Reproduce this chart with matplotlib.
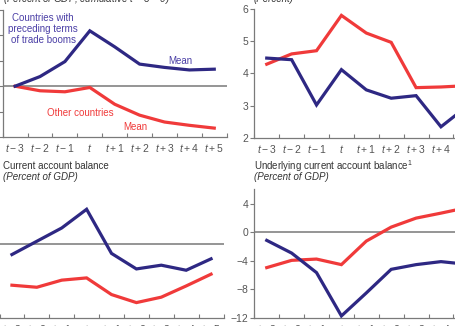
import matplotlib
matplotlib.use('Agg')
import matplotlib.pyplot as plt

plt.rcParams['font.family'] = ['Liberation Sans', 'DejaVu Sans']
plt.rcParams['mathtext.fontset'] = 'custom'
plt.rcParams['mathtext.it'] = 'Liberation Sans:italic'
plt.rcParams['mathtext.rm'] = 'Liberation Sans'

# data
periods = ['$t-3$', '$t-2$', '$t-1$', '$t$', '$t+1$', '$t+2$', '$t+3$', '$t+4$', '$t+5$']

# top left: cumulative, t-3 = 0
tl_boom = [0.0, 0.38, 0.97, 2.18, 1.55, 0.87, 0.74, 0.64, 0.67]
tl_other = [0.0, -0.18, -0.22, -0.05, -0.71, -1.14, -1.41, -1.54, -1.65]

# top right: percent
tr_boom = [4.48, 4.43, 3.02, 4.12, 3.49, 3.23, 3.31, 2.34, 2.95]
tr_other = [4.29, 4.61, 4.71, 5.81, 5.26, 4.97, 3.56, 3.58, 3.62]

# bottom left: current account balance
bl_boom = [-0.59, 0.12, 0.83, 1.83, -0.53, -1.36, -1.16, -1.43, -0.82]
bl_other = [-2.23, -2.34, -1.96, -1.84, -2.73, -3.16, -2.87, -2.27, -1.64]

# bottom right: underlying current account balance
br_boom = [-1.16, -2.94, -5.68, -11.75, -8.53, -5.22, -4.56, -4.14, -4.5]
br_other = [-4.98, -3.96, -3.78, -4.56, -1.26, 0.70, 1.96, 2.66, 3.4]

BLUE = '#2e2883'
RED = '#f03a3a'
GREY = '#7a7a7a'
TXT = '#333333'

W, H = 455.0, 326.0
fig = plt.figure(figsize=(W / 100, H / 100), dpi=100)


def panel(x0, y_top, y_bot, ylim, yticks, boom, other, left='full'):
    ax = fig.add_axes([x0 / W, 1 - y_bot / H, 224 / W, (y_bot - y_top) / H])
    x = range(len(periods))
    ax.axhline(0, color='#8c8c8c', lw=1.3, zorder=1)
    ax.plot(x, other, color=RED, lw=2.3, solid_joinstyle='miter', zorder=3)
    ax.plot(x, boom, color=BLUE, lw=2.3, solid_joinstyle='miter', zorder=3)
    ax.set_xlim(-0.5, 8.5)
    ax.set_ylim(*ylim)
    ax.set_yticks(yticks)
    ax.set_xticks(range(len(periods)))
    ax.set_xticklabels(periods)
    ax.set_xticks([i - 0.5 for i in range(len(periods) + 1)], minor=True)
    ax.tick_params(axis='x', which='major', length=0, pad=3.5, labelsize=7.5, labelcolor='#555555')
    ax.tick_params(axis='x', which='minor', length=3, direction='in', color=GREY, width=0.8)
    ax.tick_params(axis='y', length=3, direction='out', color=GREY, width=0.8,
                   labelsize=7.5, labelcolor='#555555', pad=1.5)
    for s in ['top', 'right']:
        ax.spines[s].set_visible(False)
    for s in ['left', 'bottom']:
        ax.spines[s].set_color(GREY)
        ax.spines[s].set_linewidth(0.9)
    if left == 'none':
        ax.spines['left'].set_visible(False)
        ax.tick_params(axis='y', left=False, labelleft=False)
    elif left == 'nolabels':
        ax.tick_params(axis='y', labelleft=False)
    ax.patch.set_alpha(0)
    return ax


ax1 = panel(2.7, 10, 137, (-2, 3), [-2, -1, 0, 1, 2, 3], tl_boom, tl_other, left='nolabels')
ax2 = panel(254.3, 9.3, 137.7, (2, 6), [2, 3, 4, 5, 6], tr_boom, tr_other)
ax3 = panel(-0.5, 187.4, 318.3, (-4, 3), [-4, -2, 0, 2], bl_boom, bl_other, left='none')
ax4 = panel(254.3, 189.3, 317.7, (-12, 6), [-12, -8, -4, 0, 4], br_boom, br_other)

# annotations in the top-left panel
ax1.text(1.13, 2.26, 'Countries with\npreceding terms\nof trade booms', color='#4b3fa6',
         fontsize=7, ha='center', va='center', linespacing=1.15)
ax1.text(6.62, 1.0, 'Mean', color='#4b3fa6', fontsize=7, ha='center', va='center')
ax1.text(2.6, -1.06, 'Other countries', color=RED, fontsize=7, ha='center', va='center')
ax1.text(4.81, -1.60, 'Mean', color=RED, fontsize=7, ha='center', va='center')

# panel titles (the top ones are cut off by the crop)
fig.text(3 / W, 1 + 1.5 / H, '(Percent of GDP; cumulative $t$ \u2212 3 = 0)', fontsize=7,
         color=TXT, style='italic', ha='left', va='center')
fig.text(254 / W, 1 + 1.5 / H, '(Percent)', fontsize=7, color=TXT, style='italic',
         ha='left', va='center')
fig.text(3 / W, 1 - 165.7 / H, 'Current account balance', fontsize=7, color=TXT,
         ha='left', va='center')
fig.text(3 / W, 1 - 177.3 / H, '(Percent of GDP)', fontsize=7, color=TXT, style='italic',
         ha='left', va='center')
fig.text(254 / W, 1 - 165.7 / H, 'Underlying current account balance$^1$', fontsize=7,
         color=TXT, ha='left', va='center')
fig.text(254 / W, 1 - 177.3 / H, '(Percent of GDP)', fontsize=7, color=TXT, style='italic',
         ha='left', va='center')

fig.savefig('out.png', dpi=100)
